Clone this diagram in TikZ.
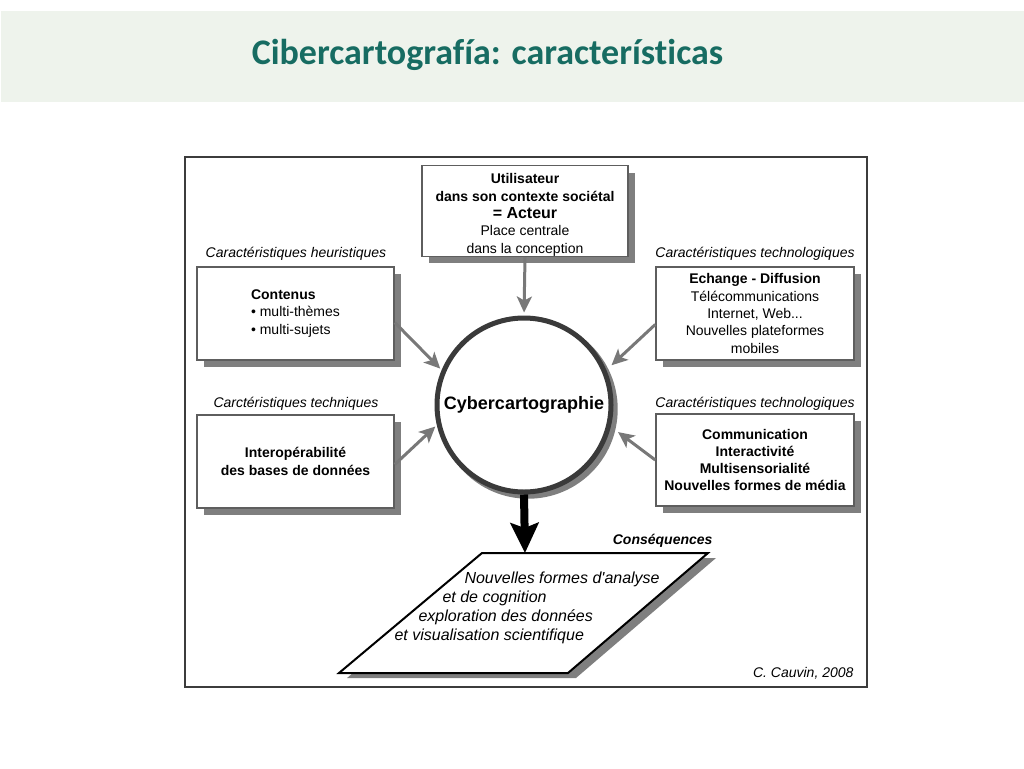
\documentclass[tikz,border=0pt]{standalone}
\usepackage{fontspec}
\setmainfont{Liberation Sans}
\newfontfamily\titlefont[Ligatures = NoCommon]{Carlito}
\usepackage{tikz}
\usetikzlibrary{arrows.meta,shadows}
\definecolor{bandgreen}{HTML}{EEF3EC}
\definecolor{titleteal}{HTML}{176C62}
\definecolor{framegray}{HTML}{3C3C3C}
\definecolor{boxgray}{HTML}{5E5E5E}
\definecolor{shadowgray}{HTML}{7F7F7F}
\definecolor{arrowgray}{HTML}{787878}
\definecolor{ringgray}{HTML}{3A3A3A}
\tikzset{
  txt/.style = {font = \fontsize{14}{17.4}\selectfont, align = center},
  heading/.style = {font = \fontsize{14}{17}\selectfont\itshape},
  csq/.style = {font = \fontsize{16}{19}\selectfont\itshape, anchor = west},
  boite/.style = {txt, draw = boxgray, line width = 1.5pt, fill = white, inner sep = 0pt,
    minimum width = 197pt, minimum height = 93pt,
    general shadow = {fill = shadowgray, shadow xshift = 7pt, shadow yshift = -7pt}},
  fleche/.style = {draw = arrowgray, line width = 3pt, -{Stealth[length = 16pt, width = 15pt, inset = 4pt]}},
}

\begin{document}
\begin{tikzpicture}[x = 1pt, y = -1pt]
        \useasboundingbox (0,0) rectangle (1024,768);
        \fill[bandgreen] (1,11) rectangle (1024,102);
        \node (titre)[anchor = base, text = titleteal, font = \titlefont\bfseries\fontsize{36}{40}\selectfont]
        at (487.5,64) {Cibercartografía: características};
        \draw[framegray, line width = 2pt] (185,157) rectangle (867,687);

        \node (acteur)[boite, minimum width = 206pt, minimum height = 90pt] at (525,211)
        {\rule{0pt}{18pt}\textbf{Utilisateur}\\ \textbf{dans son contexte sociétal}\\ {\fontsize{16}{17.4}\selectfont\bfseries = Acteur}\\ Place centrale\\ dans la conception};
        \node (contenus)[boite, align = left] at (295.5,313.5)
        {\textbf{Contenus}\\ • multi-thèmes\\ • multi-sujets};
        \node (interop)[boite, font = \fontsize{14}{17.4}\selectfont\bfseries] at (295.5,461.5)
        {Interopérabilité\\ des bases de données};
        \node (echange)[boite, minimum width = 198pt] at (755,313.5)
        {\textbf{Echange - Diffusion}\\ Télécommunications\\ Internet, Web...\\ Nouvelles plateformes\\ mobiles};
        \node (media)[boite, minimum width = 198pt, minimum height = 92pt, font = \fontsize{14}{17.2}\selectfont\bfseries] at (755,460)
        {Communication\\ Interactivité\\ Multisensorialité\\ Nouvelles formes de média};

        \node (lab_heur)[heading] at (296,254) {Caractéristiques heuristiques};
        \node (lab_tech)[heading] at (296,404) {Carctéristiques techniques};
        \node (lab_techno1)[heading] at (755,254) {Caractéristiques technologiques};
        \node (lab_techno2)[heading] at (755,404) {Caractéristiques technologiques};

        \node (cyber)[circle, draw = ringgray, line width = 5pt, fill = white, inner sep = 0pt, minimum size = 174pt,
        general shadow = {fill = shadowgray, shadow xshift = 4pt, shadow yshift = -4pt, shadow scale = 1.03},
        font = \fontsize{18}{20}\selectfont\bfseries] at (524,405) {Cybercartographie};

        \coordinate (p_sw) at (339,673);
        \coordinate (p_nw) at (482,553);
        \coordinate (p_ne) at (708,553);
        \coordinate (p_se) at (568,673);
        \coordinate (p_top) at (525,553);
        \fill[shadowgray] ([shift = {(8pt,-5pt)}]p_sw) -- ([shift = {(8pt,-5pt)}]p_nw)
        -- ([shift = {(8pt,-5pt)}]p_ne) -- ([shift = {(8pt,-5pt)}]p_se) -- cycle;
        \draw[fill = white, line width = 2pt, line join = miter] (p_sw) -- (p_nw) -- (p_ne) -- (p_se) -- cycle;
        \node (csq1)[csq] at (461,579) {Nouvelles formes d\textquotesingle analyse};
        \node (csq2)[csq] at (439,598) {et de cognition};
        \node (csq3)[csq] at (415,617) {exploration des données};
        \node (csq4)[csq] at (391,636) {et visualisation scientifique};
        \node (lab_csq)[heading, font = \fontsize{14}{17}\selectfont\bfseries\itshape, anchor = east] at (716,541) {Conséquences};
        \node (source)[heading, anchor = east] at (857,673) {C. Cauvin, 2008};

        \path(acteur.south) edge[fleche, shorten > = 3pt] (cyber.north);
        \path([yshift = -9pt]contenus.east) edge[fleche, shorten > = 2pt] (cyber.157);
        \path([yshift = -3pt]interop.east) edge[fleche, shorten > = 2pt] (cyber.193);
        \path([yshift = -11pt]echange.west) edge[fleche, shorten > = 7pt] (cyber.23);
        \path(media.west) edge[fleche, shorten > = 9pt] (cyber.-14);
        \path(cyber.south) edge[draw = black, line width = 8pt, -{Stealth[length = 30pt, width = 28pt, inset = 5pt]}] (p_top);
    \end{tikzpicture}
\end{document}
